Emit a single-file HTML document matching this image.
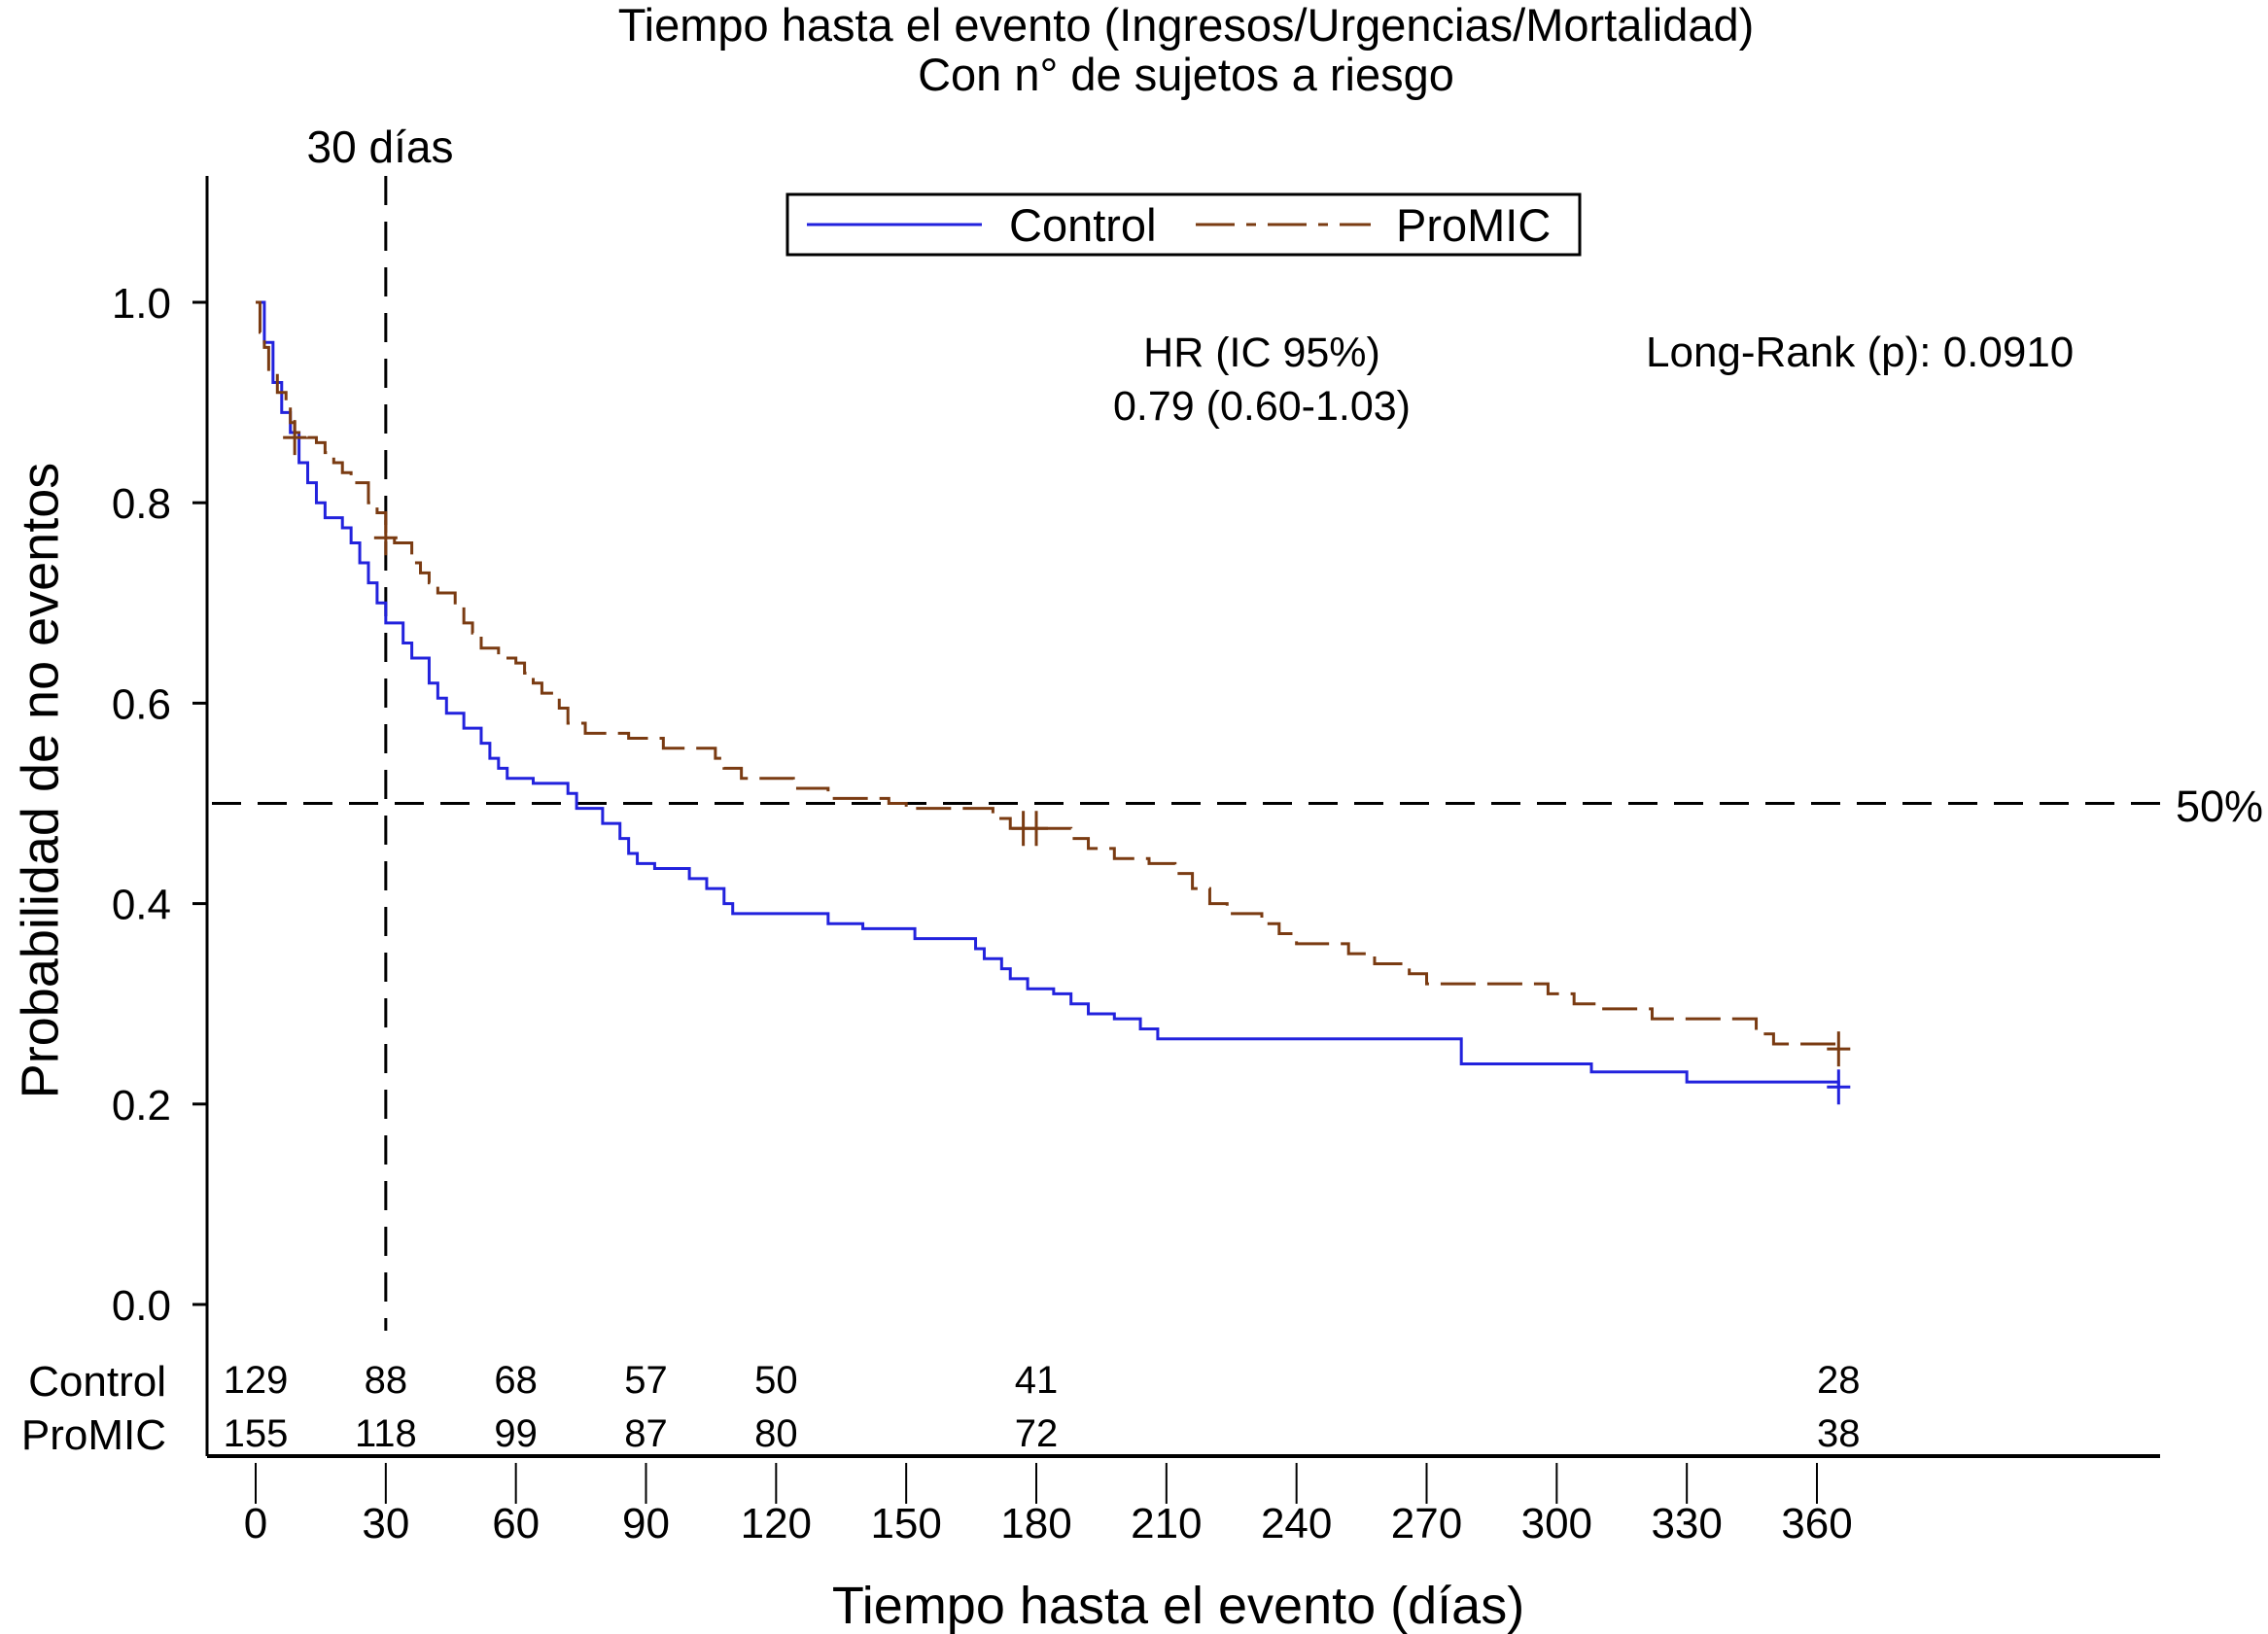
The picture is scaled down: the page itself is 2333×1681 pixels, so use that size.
<!DOCTYPE html>
<html><head><meta charset="utf-8"><style>
html,body{margin:0;padding:0;background:#fff;}
svg{display:block;font-family:"Liberation Sans",Arial,sans-serif;}
</style></head><body>
<svg id="chart" width="2333" height="1681" viewBox="0 0 2333 1681" xmlns="http://www.w3.org/2000/svg">
<g id="static">
<text x="1220" y="42" font-size="47" text-anchor="middle">Tiempo hasta el evento (Ingresos/Urgencias/Mortalidad)</text>
<text x="1220" y="93" font-size="47" text-anchor="middle">Con n° de sujetos a riesgo</text>
<line x1="213" y1="181" x2="213" y2="1498" stroke="#000" stroke-width="3"/>
<line x1="213" y1="1498" x2="2222" y2="1498" stroke="#000" stroke-width="4"/>
<text x="45" y="803" font-size="54" text-anchor="middle" transform="rotate(-90 45 803)" dominant-baseline="middle">Probabilidad de no eventos</text>
<text x="1212" y="1670" font-size="54" text-anchor="middle">Tiempo hasta el evento (días)</text>
<rect x="810" y="200" width="815" height="62" fill="#fff" stroke="#000" stroke-width="3"/>
<line x1="830" y1="231" x2="1010" y2="231" stroke="#2222dd" stroke-width="3"/>
<text x="1038" y="248" font-size="47">Control</text>
<line x1="1230" y1="231" x2="1410" y2="231" stroke="#7a3b12" stroke-width="3" stroke-dasharray="40 12 10 12"/>
<text x="1436" y="248" font-size="47">ProMIC</text>
<text x="1298" y="377" font-size="43" text-anchor="middle">HR (IC 95%)</text>
<text x="1298" y="432" font-size="43" text-anchor="middle">0.79 (0.60-1.03)</text>
<text x="1693" y="377" font-size="44">Long-Rank (p): 0.0910</text>
<text x="2238" y="845" font-size="45">50%</text>
<text x="391" y="167" font-size="46" text-anchor="middle">30 días</text>
<text x="171" y="1436" font-size="44" text-anchor="end">Control</text>
<text x="171" y="1491" font-size="44" text-anchor="end">ProMIC</text>
</g>
<g id="dyn"></g>
</svg>
<script>
const xTicks=[0,30,60,90,120,150,180,210,240,270,300,330,360];
const yTicks=[0.0,0.2,0.4,0.6,0.8,1.0];
const riskDays=[0,30,60,90,120,180,365];
const riskControl=[129,88,68,57,50,41,28];
const riskPromic=[155,118,99,87,80,72,38];
const controlDays=[0,2,4,6,8,10,12,14,16,20,22,24,26,28,30,34,36,40,42,44,48,52,54,56,58,64,72,74,80,84,86,88,92,100,104,108,110,132,140,152,166,168,172,174,178,184,188,192,198,204,208,278,308,330,365];
const controlSurv=[1.0,0.96,0.92,0.89,0.87,0.84,0.82,0.80,0.785,0.775,0.76,0.74,0.72,0.70,0.68,0.66,0.645,0.62,0.605,0.59,0.575,0.56,0.545,0.535,0.525,0.52,0.51,0.495,0.48,0.465,0.45,0.44,0.435,0.425,0.415,0.40,0.39,0.38,0.375,0.365,0.355,0.345,0.335,0.325,0.315,0.31,0.30,0.29,0.285,0.275,0.265,0.24,0.232,0.222,0.217];
const promicDays=[0,1,2,3,5,7,8,9,12,14,16,18,20,22,26,28,30,32,36,38,40,42,46,48,50,52,56,60,62,64,66,70,72,76,86,94,106,108,112,124,132,146,150,170,174,188,192,198,206,212,216,220,224,232,236,240,252,258,266,270,298,304,310,322,346,350,365];
const promicSurv=[1.0,0.97,0.955,0.93,0.91,0.90,0.88,0.87,0.865,0.86,0.85,0.84,0.83,0.82,0.80,0.79,0.77,0.76,0.74,0.73,0.72,0.71,0.70,0.68,0.67,0.655,0.645,0.64,0.63,0.62,0.61,0.595,0.58,0.57,0.565,0.555,0.545,0.535,0.525,0.515,0.505,0.50,0.495,0.485,0.475,0.465,0.455,0.445,0.44,0.43,0.415,0.40,0.39,0.38,0.37,0.36,0.35,0.34,0.33,0.32,0.31,0.30,0.295,0.285,0.27,0.26,0.26];
const censorControlDays=[365];
const censorControlSurv=[0.217];
const censorPromicDays=[9,30,177,180,365];
const censorPromicSurv=[0.865,0.765,0.475,0.475,0.255];

const X=d=>263+d*(1869-263)/360;
const Y=v=>1342-v*(1342-311);
const NS='http://www.w3.org/2000/svg';
const g=document.getElementById('dyn');
function mk(tag,attrs){const e=document.createElementNS(NS,tag);for(const k in attrs)e.setAttribute(k,attrs[k]);g.appendChild(e);return e;}

xTicks.forEach(t=>{
  const l=mk('line',{x1:X(t),x2:X(t),y1:1505,y2:1547,stroke:'#000','stroke-width':2});
  
  
  const tx=mk('text',{x:X(t),y:1582,'font-size':44,'text-anchor':'middle'});
  tx.textContent=t;
  
  
});
yTicks.forEach(t=>{
  const l=mk('line',{x1:198,x2:213,y1:Y(t),y2:Y(t),stroke:'#000','stroke-width':3});
  
  
  const tx=mk('text',{x:176,y:Y(t)+16,'font-size':44,'text-anchor':'end'});
  tx.textContent=t.toFixed(1);
  
  
});
const hl=mk('line',{x1:218,x2:2225,y1:Y(0.5),y2:Y(0.5),stroke:'#000','stroke-width':3,'stroke-dasharray':'30 17'});


const vl=mk('line',{x1:X(30),x2:X(30),y1:181,y2:1369,stroke:'#000','stroke-width':3,'stroke-dasharray':'30 17'});



function stepPath(ds,ss){let p='M'+X(ds[0])+' '+Y(ss[0]);for(let i=1;i<ds.length;i++){p+=' H'+X(ds[i])+' V'+Y(ss[i]);}return p;}
const pc=mk('path',{d:stepPath(controlDays,controlSurv),fill:'none',stroke:'#2222dd','stroke-width':3});


const pp=mk('path',{d:stepPath(promicDays,promicSurv),fill:'none',stroke:'#7a3b12','stroke-width':3,'stroke-dasharray':'36 12'});


function censor(ds,ss,col,name){ds.forEach((d,i)=>{
  const c=mk('path',{d:'M'+(X(d)-12)+' '+Y(ss[i])+' H'+(X(d)+12)+' M'+X(d)+' '+(Y(ss[i])-18)+' V'+(Y(ss[i])+18),stroke:col,'stroke-width':3,fill:'none'});
  
  
});}
censor(censorControlDays,censorControlSurv,'#2222dd','control-censor-mark');
censor(censorPromicDays,censorPromicSurv,'#7a3b12','promic-censor-mark');

riskDays.forEach((d,i)=>{
  const a=mk('text',{x:X(d),y:1433,'font-size':40,'text-anchor':'middle'});
  a.textContent=riskControl[i];
  
  
  const b=mk('text',{x:X(d),y:1488,'font-size':40,'text-anchor':'middle'});
  b.textContent=riskPromic[i];
  
  
});
</script>
</body></html>
